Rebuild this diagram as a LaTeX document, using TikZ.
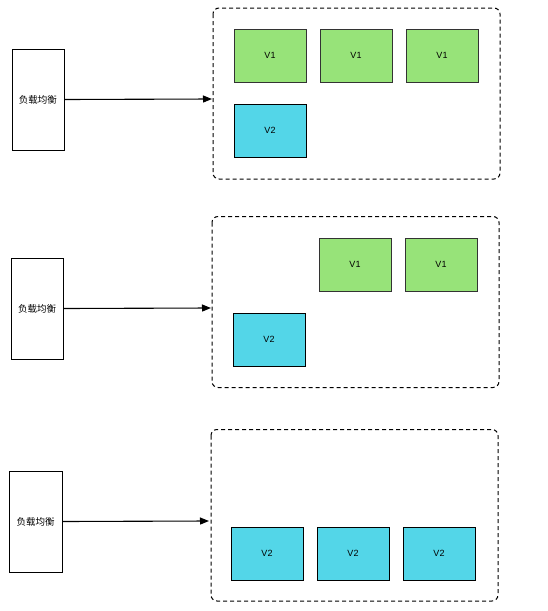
\documentclass[tikz,border=0pt]{standalone}
\usepackage{fontspec}
\setmainfont{Liberation Sans}
\newfontfamily\cjk{Noto Sans CJK SC}
\usetikzlibrary{arrows.meta}
\definecolor{vgreen}{RGB}{151,227,121}
\definecolor{vcyan}{RGB}{83,214,232}
\tikzset{
  lbbox/.style={draw=black, fill=white, line width=1pt, minimum width=52pt, minimum height=101pt, inner sep=0pt, font=\cjk\fontsize{9.5}{11}\selectfont},
  grp/.style={draw=black, dash pattern=on 4pt off 3pt, line width=1pt, rounded corners=6pt},
  vone/.style={draw=black!80, fill=vgreen, line width=1pt, minimum width=72pt, minimum height=53pt, inner sep=0pt, font=\fontsize{9}{10}\selectfont},
  vtwo/.style={draw=black, fill=vcyan, line width=1pt, minimum width=72pt, minimum height=53pt, inner sep=0pt, font=\fontsize{9}{10}\selectfont},
  conn/.style={draw=black, line width=1.1pt, -{Triangle[length=9pt,width=7pt]}},
}
\begin{document}
\begin{tikzpicture}[x=1pt,y=-1pt]
\useasboundingbox (0,0) rectangle (547,611);
% panel 1
\draw[grp] (213,8) rectangle (500,179);
\coordinate (g1) at (212,99);
\node[lbbox] (lb1) at (38,99.5) {负载均衡};
\node[vone] (a1) at (270,55.5) {V1};
\node[vone] (a2) at (356,55.5) {V1};
\node[vone] (a3) at (442,55.5) {V1};
\node[vtwo] (a4) at (270,130.5) {V2};
\draw[conn] (lb1.east) -- (g1);
% panel 2
\draw[grp] (212,216.5) rectangle (499,387.5);
\coordinate (g2) at (211,308);
\node[lbbox] (lb2) at (37,308.5) {负载均衡};
\node[vone] (b2) at (355,264.5) {V1};
\node[vone] (b3) at (441,264.5) {V1};
\node[vtwo] (b4) at (269,339.5) {V2};
\draw[conn] (lb2.east) -- (g2);
% panel 3
\draw[grp] (211,429.5) rectangle (498,601);
\coordinate (g3) at (209,521);
\node[lbbox, minimum width=53pt] (lb3) at (35.5,521.5) {负载均衡};
\node[vtwo] (c1) at (267,553.5) {V2};
\node[vtwo] (c2) at (353,553.5) {V2};
\node[vtwo] (c3) at (439,553.5) {V2};
\draw[conn] (lb3.east) -- (g3);
\end{tikzpicture}
\end{document}
